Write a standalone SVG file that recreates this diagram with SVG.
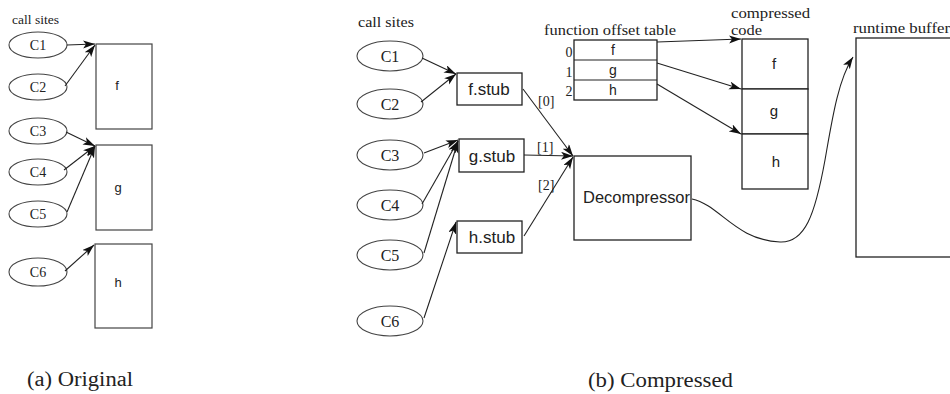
<svg xmlns="http://www.w3.org/2000/svg" width="950" height="394" viewBox="0 0 950 394">
<style>
.bg{fill:#fff}
.ell{fill:none;stroke:#444;stroke-width:1.1}
.box{fill:#fff;stroke:#444;stroke-width:1.2}
.box2{fill:#fff;stroke:#222;stroke-width:1.3}
.edge{fill:none;stroke:#222;stroke-width:1.1;marker-end:url(#ah)}
.plain{fill:none;stroke:#222;stroke-width:1.1}
.serif{font-family:"Liberation Serif","Times New Roman",serif;fill:#222}
.sans{font-family:"Liberation Sans",Arial,sans-serif;fill:#222}
</style>
<defs>
<marker id="ah" markerUnits="userSpaceOnUse" markerWidth="13" markerHeight="9" refX="12" refY="4" orient="auto">
<path d="M0,0 L12,4 L0,8 L3,4 z" fill="#111"/>
</marker>
</defs>
<rect class="bg" x="0" y="0" width="950" height="394"/>

<!-- (a) Original -->
<text class="serif" x="12" y="24" font-size="13" textLength="47" lengthAdjust="spacingAndGlyphs">call sites</text>
<g id="a-C1"><ellipse class="ell" cx="38" cy="45" rx="29" ry="13"/><text class="serif" x="38" y="50" font-size="14" text-anchor="middle">C1</text></g>
<g id="a-C2"><ellipse class="ell" cx="38" cy="87" rx="29" ry="13"/><text class="serif" x="38" y="92" font-size="14" text-anchor="middle">C2</text></g>
<g id="a-C3"><ellipse class="ell" cx="38" cy="131" rx="29" ry="13"/><text class="serif" x="38" y="136" font-size="14" text-anchor="middle">C3</text></g>
<g id="a-C4"><ellipse class="ell" cx="38" cy="172" rx="29" ry="13"/><text class="serif" x="38" y="177" font-size="14" text-anchor="middle">C4</text></g>
<g id="a-C5"><ellipse class="ell" cx="38" cy="214" rx="29" ry="13"/><text class="serif" x="38" y="219" font-size="14" text-anchor="middle">C5</text></g>
<g id="a-C6"><ellipse class="ell" cx="38" cy="272" rx="29" ry="14"/><text class="serif" x="38" y="277" font-size="14" text-anchor="middle">C6</text></g>
<g id="a-f"><rect class="box" x="96" y="44" width="56" height="85"/><text class="sans" x="117" y="90" font-size="13" text-anchor="middle">f</text></g>
<g id="a-g"><rect class="box" x="96" y="145" width="56" height="85"/><text class="sans" x="118" y="192" font-size="13" text-anchor="middle">g</text></g>
<g id="a-h"><rect class="box" x="95" y="244" width="57" height="84"/><text class="sans" x="118" y="287" font-size="13" text-anchor="middle">h</text></g>
<text class="serif" x="27" y="386" font-size="20" textLength="106" lengthAdjust="spacingAndGlyphs">(a) Original</text>

<!-- (b) Compressed -->
<text class="serif" x="358" y="27" font-size="15" textLength="56" lengthAdjust="spacingAndGlyphs">call sites</text>
<g id="b-C1"><ellipse class="ell" cx="390" cy="56" rx="33" ry="15"/><text class="serif" x="390" y="61.5" font-size="16" text-anchor="middle">C1</text></g>
<g id="b-C2"><ellipse class="ell" cx="390" cy="104" rx="33" ry="15"/><text class="serif" x="390" y="109.5" font-size="16" text-anchor="middle">C2</text></g>
<g id="b-C3"><ellipse class="ell" cx="390" cy="155" rx="33" ry="15"/><text class="serif" x="390" y="160.5" font-size="16" text-anchor="middle">C3</text></g>
<g id="b-C4"><ellipse class="ell" cx="390" cy="205" rx="33" ry="15"/><text class="serif" x="390" y="210.5" font-size="16" text-anchor="middle">C4</text></g>
<g id="b-C5"><ellipse class="ell" cx="390" cy="255" rx="33" ry="15"/><text class="serif" x="390" y="260.5" font-size="16" text-anchor="middle">C5</text></g>
<g id="b-C6"><ellipse class="ell" cx="390" cy="321" rx="33" ry="15"/><text class="serif" x="390" y="326.5" font-size="16" text-anchor="middle">C6</text></g>

<g id="fstub"><rect class="box2" x="457" y="73" width="65" height="32"/><text class="sans" x="489" y="95" font-size="17" text-anchor="middle">f.stub</text></g>
<g id="gstub"><rect class="box2" x="459" y="139" width="65" height="33"/><text class="sans" x="492" y="161.5" font-size="17" text-anchor="middle">g.stub</text></g>
<g id="hstub"><rect class="box2" x="457" y="221" width="65" height="32"/><text class="sans" x="492" y="243" font-size="17" text-anchor="middle">h.stub</text></g>

<g id="decompressor"><rect class="box2" x="574" y="156" width="117" height="84"/><text class="sans" x="583" y="203" font-size="16" textLength="107" lengthAdjust="spacingAndGlyphs">Decompressor</text></g>

<g id="offset-table">
<text class="serif" x="544" y="35" font-size="15" textLength="132" lengthAdjust="spacingAndGlyphs">function offset table</text>
<rect class="box2" x="574" y="40" width="83" height="60"/>
<line class="plain" x1="574" y1="60" x2="657" y2="60"/>
<line class="plain" x1="574" y1="80" x2="657" y2="80"/>
<text class="sans" x="613" y="55" font-size="14" text-anchor="middle">f</text>
<text class="sans" x="613" y="75" font-size="14" text-anchor="middle">g</text>
<text class="sans" x="613" y="95" font-size="14" text-anchor="middle">h</text>
<text class="serif" x="569" y="57" font-size="14" text-anchor="middle">0</text>
<text class="serif" x="569" y="77" font-size="14" text-anchor="middle">1</text>
<text class="serif" x="569" y="96" font-size="14" text-anchor="middle">2</text>
</g>

<g id="compressed-code">
<text class="serif" x="731" y="18" font-size="15" textLength="79" lengthAdjust="spacingAndGlyphs">compressed</text>
<text class="serif" x="731" y="35" font-size="15" textLength="31" lengthAdjust="spacingAndGlyphs">code</text>
<rect class="box2" x="742" y="39" width="66" height="50"/>
<rect class="box2" x="742" y="89" width="66" height="45"/>
<rect class="box2" x="742" y="134" width="66" height="55"/>
<text class="sans" x="774" y="69" font-size="15" text-anchor="middle">f</text>
<text class="sans" x="774" y="116" font-size="15" text-anchor="middle">g</text>
<text class="sans" x="776" y="167" font-size="15" text-anchor="middle">h</text>
</g>

<g id="runtime-buffer">
<text class="serif" x="853" y="33" font-size="15" textLength="97" lengthAdjust="spacingAndGlyphs">runtime buffer</text>
<rect class="box2" x="856" y="38" width="120" height="219"/>
</g>

<g id="edge-labels">
<text class="serif" x="538" y="106" font-size="14">[0]</text>
<text class="serif" x="537" y="152" font-size="14">[1]</text>
<text class="serif" x="538" y="190" font-size="14">[2]</text>
</g>

<text class="serif" x="588" y="387" font-size="21" textLength="145" lengthAdjust="spacingAndGlyphs">(b) Compressed</text>

<g id="connectors">
<line class="edge" x1="67" y1="45" x2="95" y2="44"/>
<line class="edge" x1="65" y1="86" x2="95" y2="45"/>
<line class="edge" x1="66" y1="132" x2="95" y2="146"/>
<line class="edge" x1="64" y1="170" x2="95" y2="146"/>
<line class="edge" x1="67" y1="212" x2="95" y2="146"/>
<line class="edge" x1="65" y1="271" x2="94" y2="245"/>

<line class="edge" x1="422" y1="58" x2="456" y2="74"/>
<line class="edge" x1="421" y1="102" x2="456" y2="74"/>
<line class="edge" x1="424" y1="153" x2="458" y2="140"/>
<line class="edge" x1="422" y1="204" x2="458" y2="141"/>
<line class="edge" x1="424" y1="253" x2="458" y2="141"/>
<line class="edge" x1="424" y1="318" x2="456" y2="222"/>

<line class="edge" x1="523" y1="89" x2="573" y2="156"/>
<line class="edge" x1="524" y1="155" x2="573" y2="156"/>
<line class="edge" x1="524" y1="236" x2="573" y2="157"/>

<line class="edge" x1="657" y1="42" x2="741" y2="39"/>
<line class="edge" x1="657" y1="63" x2="741" y2="89"/>
<line class="edge" x1="657" y1="84" x2="741" y2="134"/>

<path class="edge" d="M692,199 C720,205 735,240 780,242 C805,243 815,215 825,160 C832,120 838,80 853,57"/>
</g>
</svg>
